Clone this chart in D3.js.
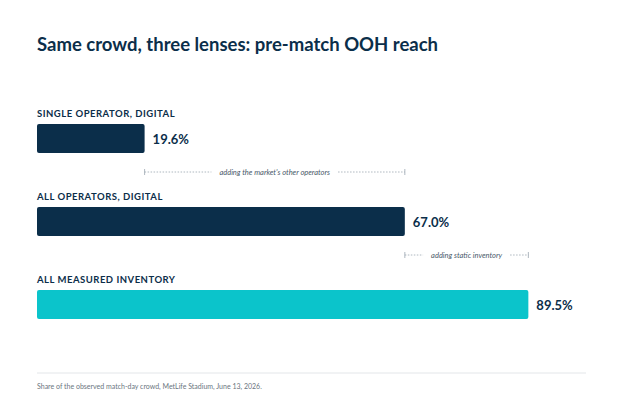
<!DOCTYPE html>
<html><head><meta charset="utf-8">
<script src="https://cdn.jsdelivr.net/npm/d3@7"></script>
<style>
body{margin:0;background:#fff;font-family:Lato,sans-serif}
</style></head><body>
<svg id="chart" width="624" height="416"></svg>
<script>
const categories = ["SINGLE OPERATOR, DIGITAL", "ALL OPERATORS, DIGITAL", "ALL MEASURED INVENTORY"]
const values = [19.6, 67.0, 89.5]
const colors = ["#0b2e4a", "#0b2e4a", "#0bc4cb"]
const steps = ["adding the market's other operators", "adding static inventory"]

let svg = d3.select("#chart")
let x = d3.scaleLinear().domain([0, 100]).range([37, 586])
let y = d3.scaleBand().domain(categories).range([105, 354]).paddingInner(0)

svg.append("text").attr("x", 37).attr("y", 51)
  .style("font-size", "18.5px").style("font-weight", 700).attr("fill", "#0b2e4a")
  .text("Same crowd, three lenses: pre-match OOH reach")

let g = svg.selectAll("g.row").data(categories).enter().append("g")
  .attr("transform", d => "translate(0," + y(d) + ")")

g.append("text").attr("x", 37).attr("y", 12)
  .style("font-size", "9.5px").style("font-weight", 700).style("letter-spacing", "0.5px")
  .attr("fill", "#0b2e4a").text(d => d)

g.append("rect").attr("x", x(0)).attr("y", 19).attr("height", 29).attr("rx", 2)
  .attr("width", (d, i) => x(values[i]) - x(0))
  .attr("fill", (d, i) => colors[i])

g.append("text").attr("x", (d, i) => x(values[i]) + 8).attr("y", 39)
  .style("font-size", "13px").style("font-weight", 700).attr("fill", "#0b2e4a")
  .text((d, i) => d3.format(".1f")(values[i]) + "%")

// bracket annotations between bars
steps.forEach((s, i) => {
  let x0 = x(values[i]), x1 = x(values[i + 1])
  let yy = y(categories[i]) + 67
  let mid = (x0 + x1) / 2
  let a = svg.append("g").attr("stroke", "#9aa6b0").attr("stroke-width", 0.8)
  a.append("line").attr("x1", x0).attr("x2", x0).attr("y1", yy - 3).attr("y2", yy + 3)
  a.append("line").attr("x1", x1).attr("x2", x1).attr("y1", yy - 3).attr("y2", yy + 3)
  let t = svg.append("text").attr("x", mid).attr("y", yy + 3).attr("text-anchor", "middle")
    .style("font-size", "7.5px").style("font-style", "italic").attr("fill", "#4a5a6a").text(s)
  let tw = t.node().getComputedTextLength() / 2 + 8
  a.append("line").attr("x1", x0).attr("x2", mid - tw).attr("y1", yy).attr("y2", yy).attr("stroke-dasharray", "1.5,1.5")
  a.append("line").attr("x1", mid + tw).attr("x2", x1).attr("y1", yy).attr("y2", yy).attr("stroke-dasharray", "1.5,1.5")
})

svg.append("line").attr("x1", 37).attr("x2", 586).attr("y1", 373).attr("y2", 373)
  .attr("stroke", "#e3e6e9")
svg.append("text").attr("x", 37).attr("y", 389).style("font-size", "7px").attr("fill", "#6b7580")
  .text("Share of the observed match-day crowd, MetLife Stadium, June 13, 2026.")
</script></body></html>
